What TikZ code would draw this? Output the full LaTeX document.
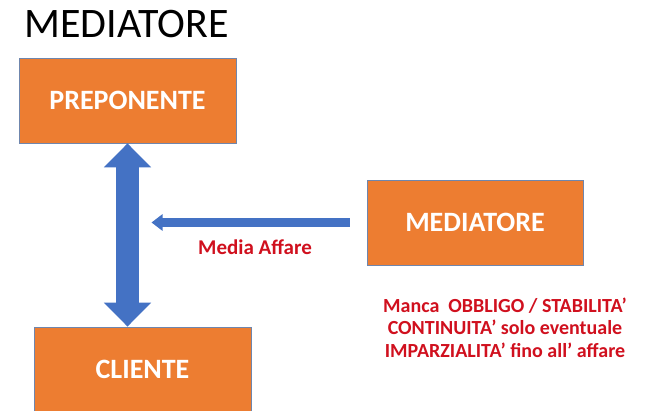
\documentclass[tikz,border=0pt]{standalone}
\usepackage{fontspec}
\setmainfont{Carlito}
\usepackage{tikz}
\usetikzlibrary{shapes,arrows.meta,positioning}
\definecolor{boxorange}{HTML}{ED7D31}
\definecolor{boxedge}{HTML}{6F86AD}
\definecolor{arrowblue}{HTML}{4472C4}
\definecolor{notered}{HTML}{D0101E}
\tikzstyle{party} = [rectangle, draw=boxedge, line width=0.8pt, fill=boxorange, minimum width=217pt, minimum height=85pt, text=white, font=\fontsize{28}{32}\selectfont\bfseries]
\tikzstyle{redtext} = [text=notered, font=\bfseries]

\begin{document}
\begin{tikzpicture}[x=1pt,y=-1pt]
\useasboundingbox (0,0) rectangle (655,411);
\node[anchor=base, font=\fontsize{42}{48}\selectfont] (title) at (126.5,38) {MEDIATORE};
\node[party] (prep) at (127.5,100.5) {PREPONENTE};
\node[party] (cliente) at (142.5,369.5) {CLIENTE};
\node[party, minimum width=216pt] (med) at (475,222.5) {MEDIATORE};
% the two parties
\draw[arrowblue, line width=23pt, {Triangle[width=46pt,length=24pt]}-{Triangle[width=46pt,length=24pt]}]
  (prep.south) -- (prep.south |- cliente.north);
\coordinate (tip) at ([xshift=24pt]med.west -| prep.south);
\draw[arrowblue, line width=9pt, -{Triangle[width=16pt,length=11pt]}, shorten <=17pt]
  (med.west) -- (tip);
\node[redtext, font=\fontsize{21}{24}\selectfont\bfseries] (affare) at (255,247) {Media Affare};
\node[redtext, below=29pt of med, align=center, font=\fontsize{20}{22.5}\selectfont\bfseries, xshift=30pt] (note)
  {Manca\ \ OBBLIGO / STABILITA'\\ CONTINUITA' solo eventuale\\ IMPARZIALITA' fino all' affare};
\end{tikzpicture}
\end{document}
